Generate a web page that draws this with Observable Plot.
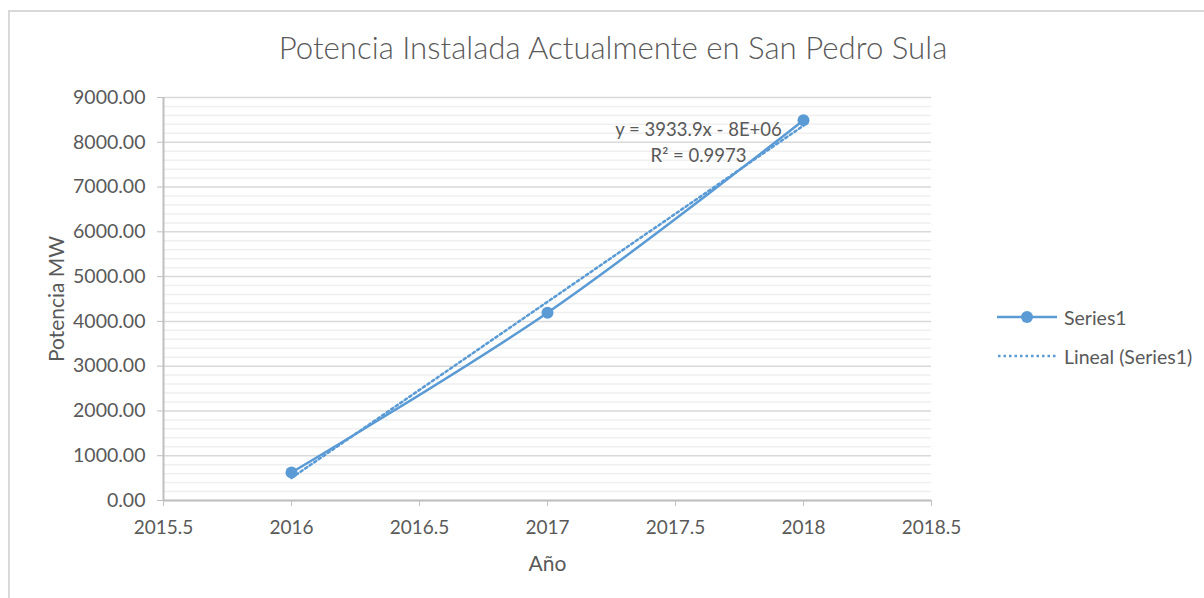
<!DOCTYPE html>
<html>
<head>
<meta charset="utf-8">
<script src="https://cdn.jsdelivr.net/npm/d3@7"></script>
<script src="https://cdn.jsdelivr.net/npm/@observablehq/plot@0.6"></script>
<style>
  body { margin: 0; background: #fff; font-family: Lato, "Open Sans", sans-serif; }
  #wrap { position: relative; width: 1204px; height: 598px; overflow: hidden; background: #fff; }
  #frame { position: absolute; left: 8px; top: 10px; width: 1400px; height: 800px;
           border-top: 2px solid #d9d9d9; border-left: 2px solid #d9d9d9; box-sizing: border-box; }
  #title { position: absolute; left: 0; top: 0; width: 1226px; height: 80px; line-height: 94px;
           text-align: center; font-size: 31.2px; font-weight: 300; color: #595959; }
  #chart { position: absolute; left: 0; top: 80px; }
  .leg { position: absolute; left: 996px; display: flex; align-items: center; font-size: 19.5px; color: #595959; }
  .leg svg { margin-right: 6px; }
</style>
</head>
<body>
<div id="wrap">
  <div id="frame"></div>
  <div id="title">Potencia Instalada Actualmente en San Pedro Sula</div>
  <div id="chart"></div>
  <div class="leg" style="top:304px">
    <svg width="62" height="26"><line x1="1" x2="61" y1="13" y2="13" stroke="#5B9BD5" stroke-width="2.5"/><circle cx="31" cy="13" r="6" fill="#5B9BD5"/></svg>
    <span>Series1</span>
  </div>
  <div class="leg" style="top:343px">
    <svg width="62" height="26"><line x1="2" x2="60" y1="13" y2="13" stroke="#5B9BD5" stroke-width="2.5" stroke-dasharray="2.5,3"/></svg>
    <span>Lineal (Series1)</span>
  </div>
</div>
<script>
// Data
const years = [2016, 2017, 2018];
const potencia = [625, 4195, 8493];
const xTicks = [2015.5, 2016, 2016.5, 2017, 2017.5, 2018, 2018.5];
const yTicks = [0, 1000, 2000, 3000, 4000, 5000, 6000, 7000, 8000, 9000];
const yMinor = d3.range(200, 9000, 200).filter(d => d % 1000 !== 0);
const equationText = "y = 3933.9x - 8E+06\nR² = 0.9973";
const xLabel = "Año";
const yLabel = "Potencia MW";

const data = years.map((x, i) => ({x, y: potencia[i]}));
const blue = "#5B9BD5";
const textColor = "#595959";

const chart = Plot.plot({
  width: 1204,
  height: 518,
  marginTop: 17,
  marginBottom: 98,
  marginLeft: 163,
  marginRight: 273,
  style: { fontFamily: "Lato, 'Open Sans', sans-serif", fontSize: "19px", color: textColor, background: "transparent", overflow: "visible" },
  x: { domain: [2015.5, 2018.5] },
  y: { domain: [0, 9000] },
  marks: [
    Plot.ruleY(yMinor, { stroke: "#efefef", strokeWidth: 1.5 }),
    Plot.ruleY(yTicks, { stroke: "#d9d9d9", strokeWidth: 1.5 }),
    Plot.ruleX([2015.5], { stroke: "#bfbfbf", strokeWidth: 2 }),
    Plot.ruleY([0], { stroke: "#bfbfbf", strokeWidth: 2 }),
    Plot.axisX({ ticks: xTicks, tickFormat: d => String(d), tickSize: 6, tickPadding: 14, stroke: "#bfbfbf", fill: textColor, label: null, fontSize: 19 }),
    Plot.axisY({ ticks: yTicks, tickFormat: d => d.toFixed(2), tickSize: 6, tickPadding: 12, stroke: "#bfbfbf", fill: textColor, label: null, fontSize: 19.5 }),
    Plot.text([xLabel], { frameAnchor: "bottom", textAnchor: "middle", dy: 70, fill: textColor, fontSize: 21 }),
    Plot.text([yLabel], { frameAnchor: "left", textAnchor: "middle", lineAnchor: "middle", dx: -106, rotate: -90, fill: textColor, fontSize: 21 }),
    Plot.linearRegressionY(data, { x: "x", y: "y", ci: 0, stroke: blue, strokeWidth: 2.5, strokeDasharray: "2.5,3" }),
    Plot.line(data, { x: "x", y: "y", curve: "catmull-rom", stroke: blue, strokeWidth: 2.5 }),
    Plot.dot(data, { x: "x", y: "y", r: 6, fill: blue }),
    Plot.text([equationText], { x: () => 2017.59, y: () => 8040, fill: textColor, fontSize: 18.5, lineHeight: 1.4 })
  ]
});
document.getElementById("chart").appendChild(chart);
</script>
</body>
</html>
